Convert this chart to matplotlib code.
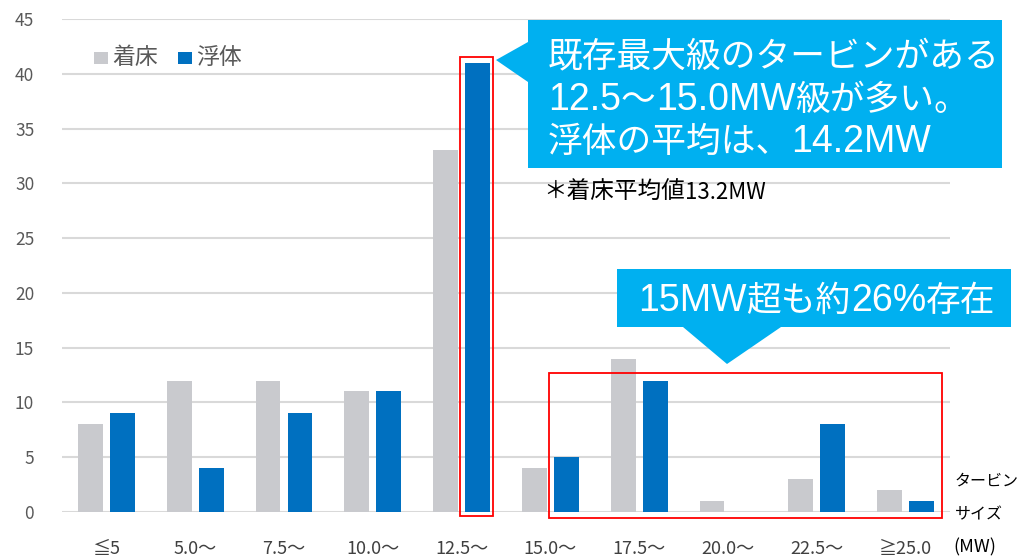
import matplotlib
matplotlib.use("Agg")
import matplotlib.pyplot as plt
import matplotlib.patches as mpatches
import numpy as np

plt.rcParams['font.family'] = ['Noto Sans CJK JP', 'DejaVu Sans']
LAT = ['Liberation Sans', 'Noto Sans CJK JP', 'DejaVu Sans']
CJK = ['Noto Sans CJK JP', 'DejaVu Sans']

categories = ["≦5", "5.0〜", "7.5〜", "10.0〜", "12.5〜", "15.0〜", "17.5〜", "20.0〜", "22.5〜", "≧25.0"]
fixed = [8, 12, 12, 11, 33, 4, 14, 1, 3, 2]      # 着床
floating = [9, 4, 9, 11, 41, 5, 12, 0, 8, 1]     # 浮体
yticks = [0, 5, 10, 15, 20, 25, 30, 35, 40, 45]

W, H = 1023, 558
fig = plt.figure(figsize=(W / 100, H / 100), dpi=100)
ax = fig.add_axes([62 / W, 1 - 512 / H, (950 - 62) / W, (512 - 19) / H])

x = np.arange(len(categories))
bw = 0.28
off = 0.18
ax.bar(x - off, fixed, bw, color="#C9CACE", zorder=3)
ax.bar(x + off, floating, bw, color="#0070C0", zorder=3)

ax.set_xlim(-0.5, len(categories) - 0.5)
ax.set_ylim(0, 45)
ax.set_yticks(yticks)
ax.yaxis.grid(True, color="#D9D9D9", linewidth=1.5, zorder=0)
for s in ax.spines.values():
    s.set_visible(False)
ax.tick_params(axis="both", length=0, colors="#595959")
ax.tick_params(axis="y", labelsize=12.5, pad=20)
ax.set_xticks(x)
ax.set_xticklabels(categories, fontsize=13)
ax.tick_params(axis="x", pad=20)
for lbl in ax.get_xticklabels():
    lbl.set_color("#404040")

def fx(px):
    return px / W

def fy(py):
    return 1 - py / H

renderer = fig.canvas.get_renderer()

def chain(x0, ybase, segments, color, zorder=11):
    """segments: list of (text, fontsize, family); baseline-aligned, placed left to right."""
    cur = x0
    for txt, fs, fam in segments:
        t = fig.text(fx(cur), fy(ybase), txt, color=color, fontsize=fs, family=fam,
                     va="baseline", ha="left", zorder=zorder)
        bb = t.get_window_extent(renderer=renderer)
        cur += bb.width

# red boxes
ax.add_patch(mpatches.Rectangle((3.98, -0.36), 0.37, 41.9, fill=False,
                                edgecolor="#FF0000", linewidth=1.3, clip_on=False, zorder=5))
ax.add_patch(mpatches.Rectangle((4.98, -0.55), 4.43, 13.25, fill=False,
                                edgecolor="#FF0000", linewidth=1.3, clip_on=False, zorder=5))

callout_c = "#00B0F0"
# callout 1
pts1 = [(528, 20), (1002, 20), (1002, 168), (528, 168), (528, 82), (496, 60), (528, 42)]
fig.patches.append(mpatches.Polygon([(fx(a), fy(b)) for a, b in pts1], closed=True,
                                    facecolor=callout_c, edgecolor="none",
                                    transform=fig.transFigure, zorder=10))
chain(548, 66, [("既存最大級のタービンがある", 25, CJK)], "white")
chain(548, 110, [("12.5", 27, LAT), ("〜", 25, CJK), ("15.0MW", 27, LAT), ("級が多い。", 25, CJK)], "white")
chain(548, 152, [("浮体の平均は、", 25, CJK), ("14.2MW", 27, LAT)], "white")

chain(543, 199, [("＊着床平均値", 17, CJK), ("13.2MW", 16, CJK)], "black")

# callout 2
pts2 = [(617, 269), (1011, 269), (1011, 327), (781, 327), (727, 364), (683, 327), (617, 327)]
fig.patches.append(mpatches.Polygon([(fx(a), fy(b)) for a, b in pts2], closed=True,
                                    facecolor=callout_c, edgecolor="none",
                                    transform=fig.transFigure, zorder=10))
chain(638, 311, [("15MW", 27, LAT), ("超も約", 25, CJK), ("26%", 27, LAT), ("存在", 25, CJK)], "white")

# legend
fig.patches.append(mpatches.Rectangle((fx(94), fy(64)), 14 / W, 12 / H, facecolor="#C9CACE",
                                      edgecolor="none", transform=fig.transFigure))
fig.text(fx(112), fy(57), "着床", color="#595959", fontsize=16.5, va="center", ha="left")
fig.patches.append(mpatches.Rectangle((fx(178), fy(64)), 14 / W, 12 / H, facecolor="#0070C0",
                                      edgecolor="none", transform=fig.transFigure))
fig.text(fx(196), fy(57), "浮体", color="#595959", fontsize=16.5, va="center", ha="left")

# axis unit label
fig.text(fx(955), fy(481), "タービン", color="black", fontsize=11.5, va="center", ha="left")
fig.text(fx(955), fy(515), "サイズ", color="black", fontsize=11.5, va="center", ha="left")
fig.text(fx(953), fy(547), "(MW)", color="black", fontsize=13, va="center", ha="left")

fig.savefig("out.png", dpi=100)
